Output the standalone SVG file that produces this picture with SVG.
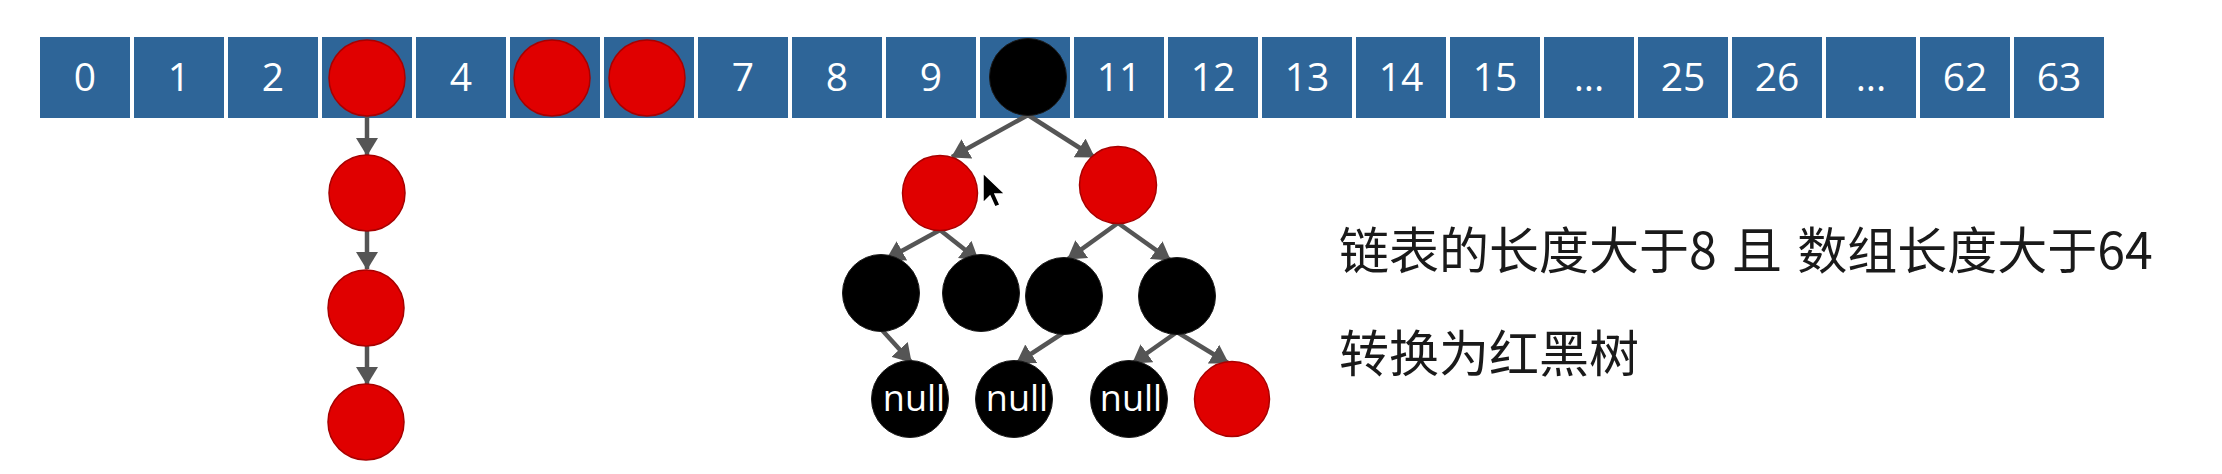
<svg xmlns="http://www.w3.org/2000/svg" width="2222" height="474" viewBox="0 0 2222 474">
<defs>
<style>
.cell{fill:#2E6598;}
.idx{font-family:"Open Sans","Liberation Sans",sans-serif;font-size:39px;fill:#ffffff;text-anchor:middle;}
.red{fill:#E00000;stroke:#A80000;stroke-width:1.5;}
.blk{fill:#000000;stroke:#1a1a1a;stroke-width:1;}
.nul{font-family:"Open Sans","Liberation Sans",sans-serif;font-size:36px;fill:#ffffff;text-anchor:middle;}
.edge{stroke:#555555;stroke-width:4.5;fill:none;marker-end:url(#ah);}
.note{font-family:"Noto Sans CJK SC","Noto Sans",sans-serif;font-size:50px;fill:#1a1a1a;word-spacing:4px;}
</style>
<marker id="ah" viewBox="0 0 18 22" refX="17" refY="11" markerWidth="18" markerHeight="22" markerUnits="userSpaceOnUse" orient="auto">
<path d="M0,0 L18,11 L0,22 z" fill="#555555"/>
</marker>
</defs>
<rect width="2222" height="474" fill="#ffffff"/>
<g id="array">
<rect class="cell" x="40" y="37" width="90" height="81"/>
<rect class="cell" x="134" y="37" width="90" height="81"/>
<rect class="cell" x="228" y="37" width="90" height="81"/>
<rect class="cell" x="322" y="37" width="90" height="81"/>
<rect class="cell" x="416" y="37" width="90" height="81"/>
<rect class="cell" x="510" y="37" width="90" height="81"/>
<rect class="cell" x="604" y="37" width="90" height="81"/>
<rect class="cell" x="698" y="37" width="90" height="81"/>
<rect class="cell" x="792" y="37" width="90" height="81"/>
<rect class="cell" x="886" y="37" width="90" height="81"/>
<rect class="cell" x="980" y="37" width="90" height="81"/>
<rect class="cell" x="1074" y="37" width="90" height="81"/>
<rect class="cell" x="1168" y="37" width="90" height="81"/>
<rect class="cell" x="1262" y="37" width="90" height="81"/>
<rect class="cell" x="1356" y="37" width="90" height="81"/>
<rect class="cell" x="1450" y="37" width="90" height="81"/>
<rect class="cell" x="1544" y="37" width="90" height="81"/>
<rect class="cell" x="1638" y="37" width="90" height="81"/>
<rect class="cell" x="1732" y="37" width="90" height="81"/>
<rect class="cell" x="1826" y="37" width="90" height="81"/>
<rect class="cell" x="1920" y="37" width="90" height="81"/>
<rect class="cell" x="2014" y="37" width="90" height="81"/>
<text class="idx" x="85" y="91">0</text>
<text class="idx" x="179" y="91">1</text>
<text class="idx" x="273" y="91">2</text>
<text class="idx" x="461" y="91">4</text>
<text class="idx" x="743" y="91">7</text>
<text class="idx" x="837" y="91">8</text>
<text class="idx" x="931" y="91">9</text>
<text class="idx" x="1119" y="91">11</text>
<text class="idx" x="1213" y="91">12</text>
<text class="idx" x="1307" y="91">13</text>
<text class="idx" x="1401" y="91">14</text>
<text class="idx" x="1495" y="91">15</text>
<text class="idx" x="1589" y="91">...</text>
<text class="idx" x="1683" y="91">25</text>
<text class="idx" x="1777" y="91">26</text>
<text class="idx" x="1871" y="91">...</text>
<text class="idx" x="1965" y="91">62</text>
<text class="idx" x="2059" y="91">63</text>
</g>
<g id="connectors">
<line class="edge" x1="367" y1="116" x2="367" y2="155"/>
<line class="edge" x1="367" y1="231" x2="367" y2="269"/>
<line class="edge" x1="367" y1="346" x2="367" y2="384"/>
<line class="edge" x1="1028" y1="115" x2="952" y2="157"/>
<line class="edge" x1="1028" y1="115" x2="1094" y2="157"/>
<line class="edge" x1="940" y1="230" x2="887" y2="259"/>
<line class="edge" x1="940" y1="230" x2="978" y2="260"/>
<line class="edge" x1="1118" y1="223" x2="1068" y2="259"/>
<line class="edge" x1="1118" y1="223" x2="1170" y2="260"/>
<line class="edge" x1="882" y1="330" x2="911" y2="362"/>
<line class="edge" x1="1063" y1="333" x2="1017" y2="363"/>
<line class="edge" x1="1177" y1="332" x2="1133" y2="363"/>
<line class="edge" x1="1177" y1="332" x2="1228" y2="363"/>
</g>
<g id="bucket3"><circle class="red" cx="367" cy="78" r="38"/></g>
<g id="bucket5"><circle class="red" cx="552" cy="78" r="38"/></g>
<g id="bucket6"><circle class="red" cx="647" cy="78" r="38"/></g>
<g id="chain1"><circle class="red" cx="367" cy="193" r="38"/></g>
<g id="chain2"><circle class="red" cx="366" cy="308" r="38"/></g>
<g id="chain3"><circle class="red" cx="366" cy="422" r="38"/></g>
<g id="root"><circle class="blk" cx="1028" cy="77" r="38.5"/></g>
<g id="l1"><circle class="red" cx="940" cy="193" r="37.5"/></g>
<g id="r1"><circle class="red" cx="1118" cy="185" r="38.5"/></g>
<g id="a2"><circle class="blk" cx="881" cy="293" r="38.5"/></g>
<g id="b2"><circle class="blk" cx="981" cy="293" r="38.5"/></g>
<g id="c2"><circle class="blk" cx="1064" cy="296" r="38.5"/></g>
<g id="d2"><circle class="blk" cx="1177" cy="296" r="38.5"/></g>
<g id="null1"><circle class="blk" cx="910" cy="399" r="38.5"/><text class="nul" x="914" y="411">null</text></g>
<g id="null2"><circle class="blk" cx="1014" cy="399" r="38.5"/><text class="nul" x="1017" y="411">null</text></g>
<g id="null3"><circle class="blk" cx="1129" cy="399" r="38.5"/><text class="nul" x="1131" y="411">null</text></g>
<g id="red3"><circle class="red" cx="1232" cy="399" r="37.5"/></g>
<g id="cursor"><path d="M983,173 l0,30 l7,-7 l5,11 l5,-2 l-5,-11 l10,0 z" fill="#000000" stroke="#ffffff" stroke-width="1.5"/></g>
<g id="note">
<text class="note" x="1339" y="269">链表的长度大于8 且 数组长度大于64</text>
<text class="note" x="1339" y="372">转换为红黑树</text>
</g>
</svg>
